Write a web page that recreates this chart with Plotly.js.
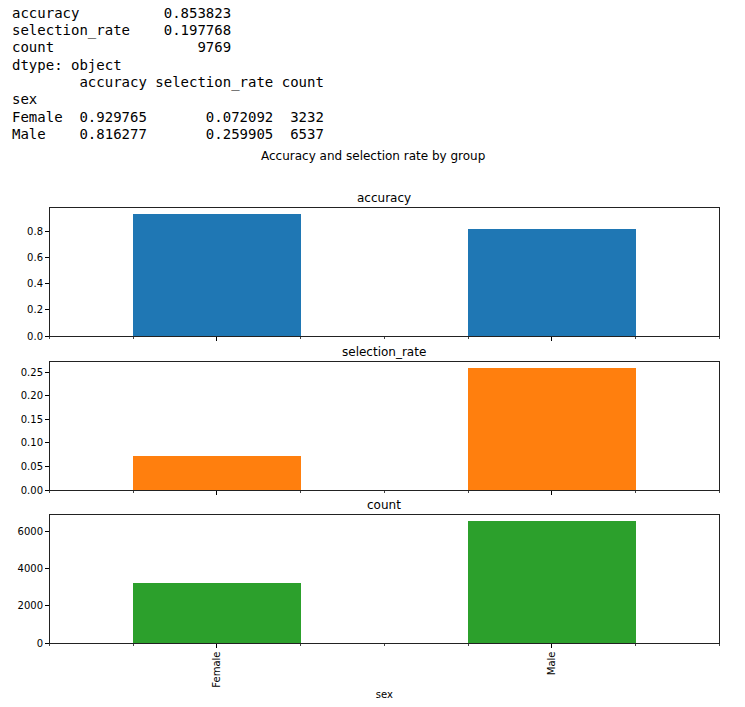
<!DOCTYPE html>
<html><head><meta charset="utf-8">
<script src="https://cdn.plot.ly/plotly-3.0.1.min.js"></script>
<style>html,body{margin:0;padding:0;background:#fff}#chart{width:745px;height:707px}</style>
</head><body><div id="chart"></div>
<script>
// ---- data ----
const groups = ['Female', 'Male'];
const accuracy = [0.929765, 0.816277];
const selectionRate = [0.072092, 0.259905];
const count = [3232, 6537];
const metricNames = ['accuracy', 'selection_rate', 'count'];
const overallValues = ['0.853823', '0.197768', '9769'];
const groupAxisName = 'sex';
const chartTitle = 'Accuracy and selection rate by group';

// ---- helpers ----
const W = 745, H = 707;
const py = p => 1 - p / H;
const px = p => p / W;
const nb = s => s.replace(/ /g, '\u00A0');

// ---- printed output lines ----
const lines = [];
metricNames.forEach((n, i) => lines.push(n.padEnd(14) + '    ' + overallValues[i].padStart(8)));
lines.push('dtype: object');
lines.push(''.padEnd(6) + '  ' + metricNames[0] + ' ' + metricNames[1] + ' ' + metricNames[2]);
lines.push(groupAxisName);
groups.forEach((g, i) => lines.push(
  g.padEnd(6) + '  ' + accuracy[i].toFixed(6).padStart(8) + ' ' +
  selectionRate[i].toFixed(6).padStart(14) + ' ' + String(count[i]).padStart(5)));

const annotations = lines.map((l, i) => ({
  text: nb(l), xref: 'paper', yref: 'paper', x: px(10), y: py(12.8 + 17.3 * i),
  xanchor: 'left', yanchor: 'middle', showarrow: false,
  font: {family: 'DejaVu Sans Mono', size: 14, color: '#000'}
}));

const titleFont = {family: 'DejaVu Sans', size: 12, color: '#000'};
annotations.push({text: chartTitle, xref: 'paper', yref: 'paper', x: px(373), y: py(156),
  xanchor: 'center', yanchor: 'middle', showarrow: false, font: titleFont});

const xL = 49.5, xR = 719.3;
const panels = [
  {top: 208.3, bot: 336, vals: accuracy, color: '#1f77b4', dtick: 0.2, fmt: '.1f', title: metricNames[0], ty: 198},
  {top: 361.7, bot: 490, vals: selectionRate, color: '#ff7f0e', dtick: 0.05, fmt: '.2f', title: metricNames[1], ty: 352},
  {top: 515, bot: 643, vals: count, color: '#2ca02c', dtick: 2000, fmt: 'd', title: metricNames[2], ty: 505}
];

const xIdx = groups.map((g, i) => i);
const data = [];
const layout = {
  width: W, height: H, margin: {l: 0, r: 0, t: 0, b: 0},
  paper_bgcolor: '#fff', plot_bgcolor: '#fff', showlegend: false,
  font: {family: 'DejaVu Sans', size: 10, color: '#000'},
  annotations: annotations, bargap: 0
};

panels.forEach((p, k) => {
  const s = k === 0 ? '' : String(k + 1);
  data.push({type: 'bar', x: xIdx, y: p.vals, width: 0.5, marker: {color: p.color, line: {width: 0}},
    xaxis: 'x' + s, yaxis: 'y' + s, hoverinfo: 'skip'});
  layout['xaxis' + s] = {
    domain: [px(xL), px(xR)], anchor: 'y' + s, type: 'linear', range: [-0.5, 1.5],
    tickvals: xIdx, ticktext: groups, showticklabels: k === 2, tickangle: -90,
    ticks: 'outside', ticklen: 3.5, tickwidth: 1, tickcolor: '#000',
    minor: {dtick: 0.25, tick0: 0, ticks: 'outside', ticklen: 2, tickwidth: 1, tickcolor: '#444'},
    showgrid: false, zeroline: false, showline: true, mirror: true, linecolor: '#222', linewidth: 1,
    automargin: false, fixedrange: true,
    tickfont: {family: 'DejaVu Sans', size: 10, color: '#000'},
    title: k === 2 ? {text: groupAxisName, font: {family: 'DejaVu Sans', size: 10, color: '#000'}, standoff: 4} : undefined
  };
  layout['yaxis' + s] = {
    domain: [py(p.bot), py(p.top)], anchor: 'x' + s, range: [0, Math.max(...p.vals) * 1.05],
    tick0: 0, dtick: p.dtick, tickformat: p.fmt,
    ticks: 'outside', ticklen: 3.5, tickwidth: 1, tickcolor: '#000',
    showgrid: false, zeroline: false, showline: true, mirror: true, linecolor: '#222', linewidth: 1,
    automargin: false, fixedrange: true,
    tickfont: {family: 'DejaVu Sans', size: 10, color: '#000'}
  };
  annotations.push({text: p.title, xref: 'paper', yref: 'paper', x: px((xL + xR) / 2), y: py(p.ty),
    xanchor: 'center', yanchor: 'middle', showarrow: false, font: titleFont});
});

Plotly.newPlot('chart', data, layout, {staticPlot: true, displayModeBar: false});
</script></body></html>
